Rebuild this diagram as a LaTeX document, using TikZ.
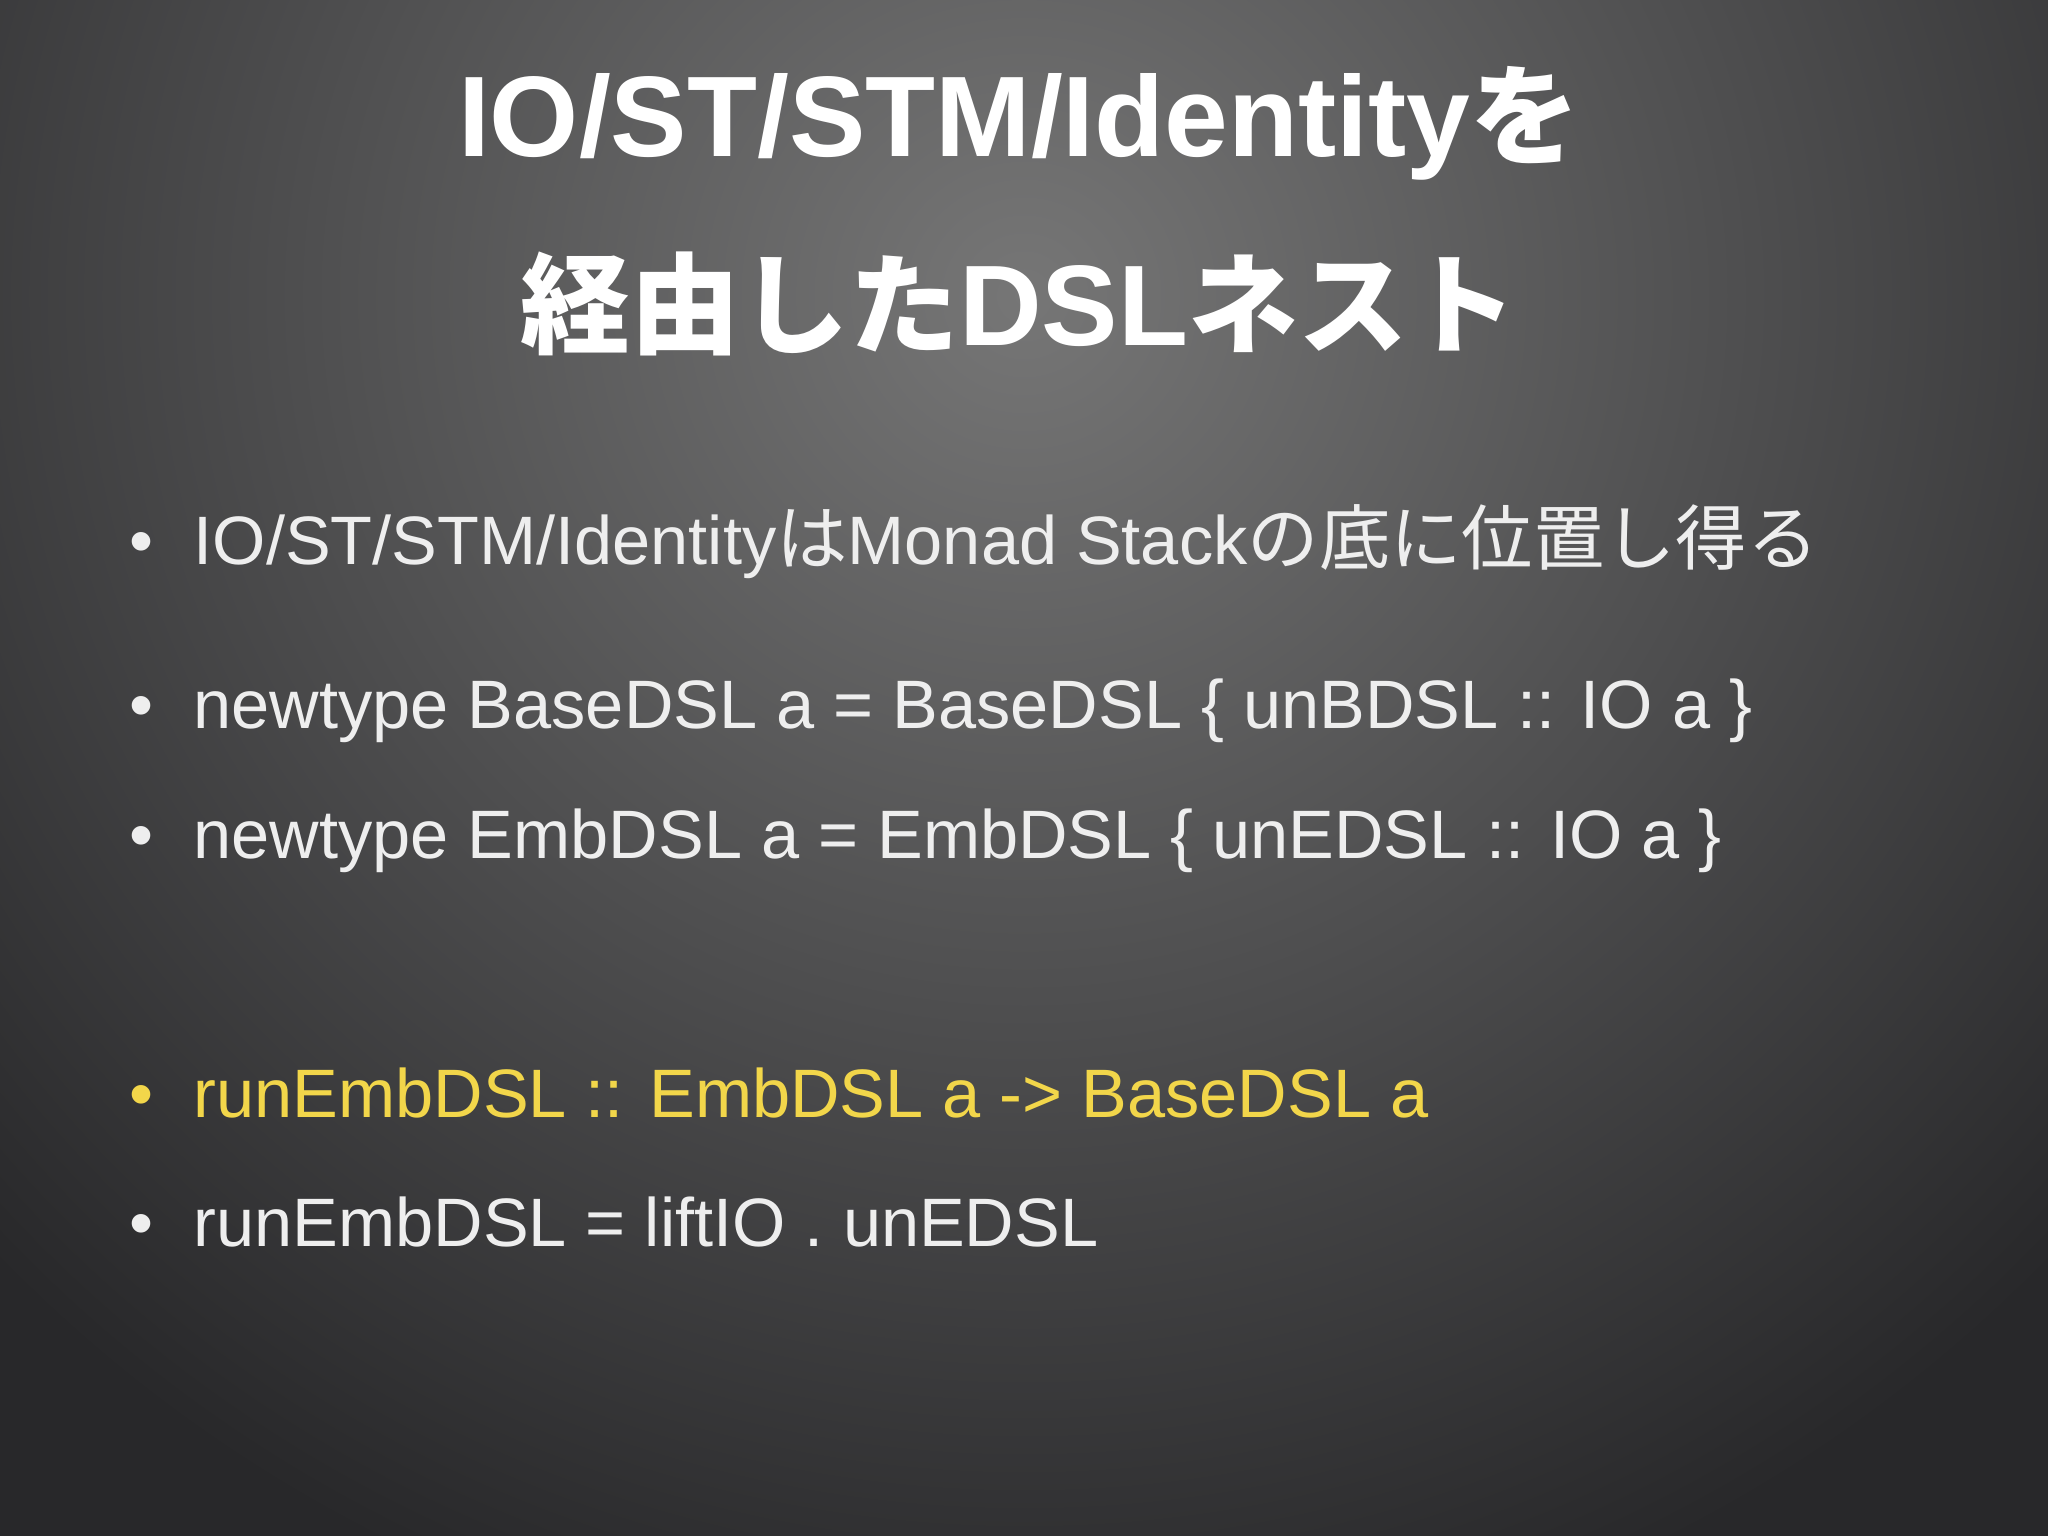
\documentclass[tikz,border=0pt]{standalone}
\usepackage{fontspec}
\setmainfont{Liberation Sans}
\newfontfamily\jp{Noto Sans CJK JP}
\usetikzlibrary{shadings}
\definecolor{txt}{HTML}{EEEEEE}
\definecolor{hl}{HTML}{F2D64A}
\tikzset{
 ttl/.style={anchor=base,text=white,font=\fontsize{32.6}{38}\selectfont\bfseries,inner sep=0},
 bl/.style={anchor=base west,text=txt,font=\fontsize{19.5}{23}\selectfont,inner sep=0},
 dot/.style={anchor=base,text=txt,font=\fontsize{19.5}{23}\selectfont,inner sep=0}
}
\newcommand\tjp{\jp\fontsize{31.2}{38}\selectfont}
\begin{document}
\begin{tikzpicture}[x=1cm,y=1cm]
\useasboundingbox (0,0) rectangle (20.48,15.36);
\fill[inner color={rgb,255:red,118;green,118;blue,118},outer color={rgb,255:red,40;green,40;blue,42}] (-4,-1.6) rectangle (24.48,26.4);
\node[ttl] (t1) at (10.19,13.79) {IO/ST/STM/Identity{\tjp を}};
\node[ttl] (t2) at (10.19,11.90) {{\tjp 経由した}DSL{\tjp ネスト}};
\node[dot] (d1) at (1.41,9.71) {•};
\node[bl] (l1) at (1.93,9.71) {IO/ST/STM/Identity{\jp\fontsize{20.3}{23}\selectfont は}Monad Stack{\jp\fontsize{20.3}{23}\selectfont の底に位置し得る}};
\node[dot] (d2) at (1.41,8.07) {•};
\node[bl] (l2) at (1.93,8.07) {newtype BaseDSL a = BaseDSL \{ unBDSL :: IO a \}};
\node[dot] (d3) at (1.41,6.77) {•};
\node[bl] (l3) at (1.93,6.77) {newtype EmbDSL a = EmbDSL \{ unEDSL :: IO a \}};
\node[dot,text=hl] (d4) at (1.41,4.18) {•};
\node[bl,text=hl] (l4) at (1.93,4.18) {runEmbDSL :: EmbDSL a -> BaseDSL a};
\node[dot] (d5) at (1.41,2.89) {•};
\node[bl] (l5) at (1.93,2.89) {runEmbDSL = liftIO . unEDSL};
\end{tikzpicture}
\end{document}
